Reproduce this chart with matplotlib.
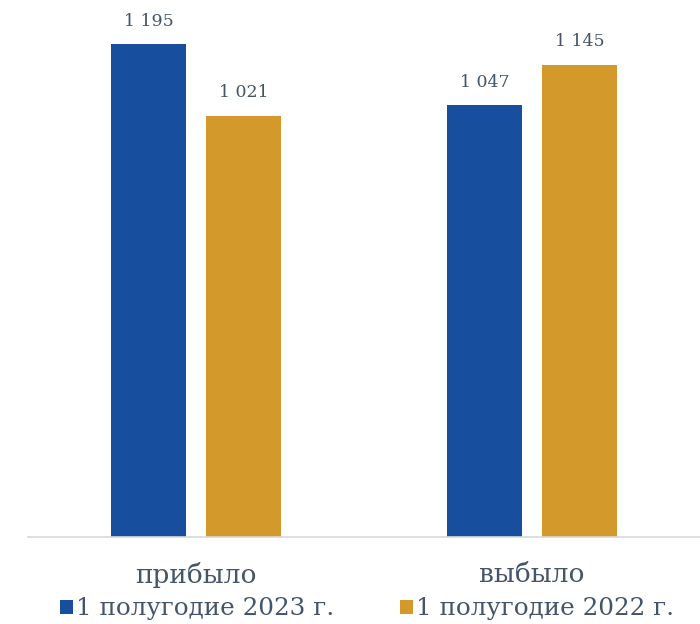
import matplotlib.pyplot as plt
import numpy as np

categories = ['прибыло', 'выбыло']
series_names = ['1 полугодие 2023 г.', '1 полугодие 2022 г.']
values_2023 = [1195, 1047]
values_2022 = [1021, 1145]

BLUE = '#174e9e'
GOLD = '#d4992b'
TEXT = '#44546a'
FONT = 'DejaVu Serif'

fig = plt.figure(figsize=(7, 6.24), dpi=100)
ax = fig.add_axes([28 / 700, 87 / 624, 672 / 700, 537 / 624])

x = np.arange(len(categories))
width = 0.223
offset = 0.141

bars1 = ax.bar(x - offset, values_2023, width, color=BLUE, label=series_names[0])
bars2 = ax.bar(x + offset, values_2022, width, color=GOLD, label=series_names[1])

for bars in (bars1, bars2):
    for b in bars:
        val = int(b.get_height())
        txt = f'{val:,}'.replace(',', ' ')
        ax.annotate(txt, (b.get_x() + b.get_width() / 2, b.get_height()),
                    xytext=(0, 10.5), textcoords='offset points', ha='center', va='bottom',
                    fontsize=12.5, color=TEXT, family=FONT)

ax.set_xlim(-0.5, 1.5)
ax.set_ylim(0, 1302)
ax.set_xticks(x)
ax.set_xticklabels(categories, fontsize=19, color=TEXT, family=FONT)
ax.tick_params(axis='x', length=0, pad=18)
ax.set_yticks([])
for side in ['top', 'right', 'left']:
    ax.spines[side].set_visible(False)
ax.spines['bottom'].set_color('#d9d9d9')
ax.spines['bottom'].set_linewidth(1.2)

leg = fig.legend(handles=[bars1, bars2], labels=series_names, loc='center',
                 bbox_to_anchor=(367 / 700, 1 - 609 / 624), ncol=2, frameon=False,
                 handlelength=0.53, handleheight=0.53, handletextpad=0.12,
                 columnspacing=2.7, borderpad=0, prop={'family': FONT, 'size': 17.7})
for t in leg.get_texts():
    t.set_color(TEXT)

fig.savefig('out.png', dpi=100)
